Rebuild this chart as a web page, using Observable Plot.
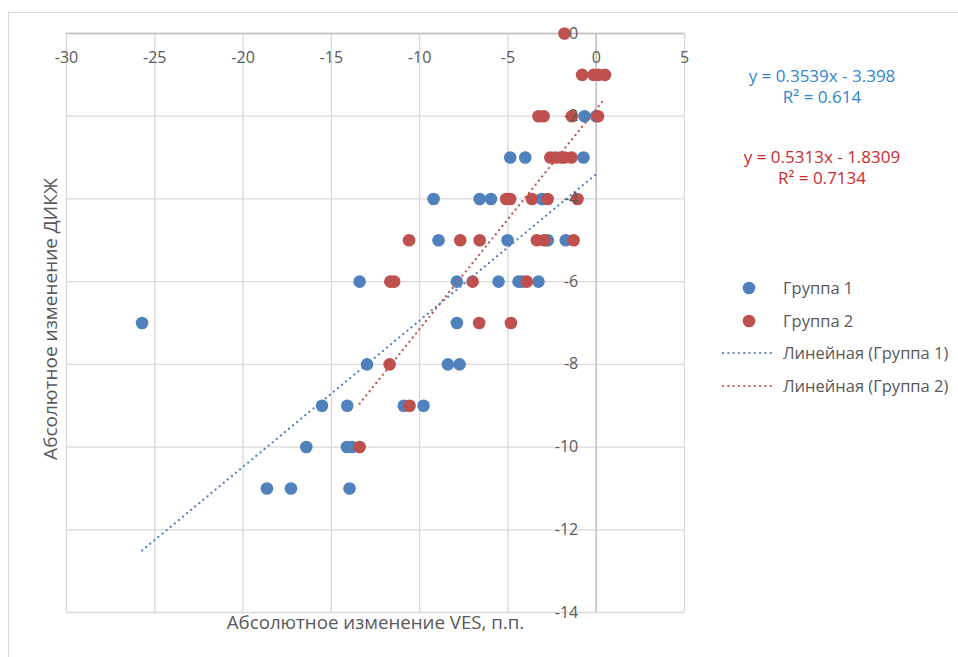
<!DOCTYPE html>
<html>
<head>
<meta charset="utf-8">
<script src="https://cdn.jsdelivr.net/npm/d3@7"></script>
<script src="https://cdn.jsdelivr.net/npm/@observablehq/plot@0.6"></script>
<style>
  html, body { margin: 0; padding: 0; background: #fff; }
  body { width: 958px; height: 657px; overflow: hidden; font-family: "Open Sans", sans-serif; }
  #wrap { position: relative; width: 958px; height: 657px; }
  #wrap svg { position: absolute; left: 0; top: 0; }
  .frame { position: absolute; left: 8px; top: 12px; right: 0; bottom: -5px; border-top: 1.5px solid #d9d9d9; border-left: 1.5px solid #d9d9d9; }
  .eq { position: absolute; width: 220px; text-align: center; font-size: 17px; line-height: 21px; white-space: nowrap; }
  .legend { position: absolute; left: 718px; top: 276px; color: #595959; font-size: 16.5px; }
  .legend .row { position: relative; height: 32.7px; }
  .legend svg { position: absolute !important; left: 0; top: 0; }
  .legend span { position: absolute; left: 65px; top: 0px; white-space: nowrap; }
</style>
</head>
<body>
<div id="wrap"><div class="frame"></div></div>
<script>
// ---- Data ----
const group1X = [-0.66, 0,
  -4.87, -4.02, -0.72,
  -9.21, -6.6, -5.96, -3.07,
  -8.93, -5.02, -2.74, -1.72,
  -13.4, -7.89, -5.53, -4.4, -4.2, -3.27,
  -25.72, -7.89,
  -12.98, -8.4, -7.74,
  -15.53, -14.1, -10.9, -9.78,
  -16.42, -14.12, -13.83,
  -18.65, -17.29, -13.97];
const group1Y = [-2, -2,
  -3, -3, -3,
  -4, -4, -4, -4,
  -5, -5, -5, -5,
  -6, -6, -6, -6, -6, -6,
  -7, -7,
  -8, -8, -8,
  -9, -9, -9, -9,
  -10, -10, -10,
  -11, -11, -11];
const group2X = [-1.8,
  -0.8, -0.15, 0.13, 0.5,
  -3.27, -2.98, -1.38, 0.1,
  -2.6, -2.3, -2.0, -1.8, -1.4,
  -5.1, -4.87, -3.64, -2.75, -1.06,
  -10.6, -7.7, -6.6, -3.36, -2.94, -1.28,
  -11.66, -11.44, -7.0, -3.93,
  -6.63, -4.83,
  -11.7,
  -10.57,
  -13.4];
const group2Y = [0,
  -1, -1, -1, -1,
  -2, -2, -2, -2,
  -3, -3, -3, -3, -3,
  -4, -4, -4, -4, -4,
  -5, -5, -5, -5, -5, -5,
  -6, -6, -6, -6,
  -7, -7,
  -8,
  -9,
  -10];
const trend1 = {slope: 0.3539, intercept: -3.398, r2: "0.614"};
const trend2 = {slope: 0.5313, intercept: -1.8309, r2: "0.7134"};
const xTicks = [-30, -25, -20, -15, -10, -5, 0, 5];
const yTicks = [0, -2, -4, -6, -8, -10, -12, -14];
const seriesNames = ["Группа 1", "Группа 2", "Линейная (Группа 1)", "Линейная (Группа 2)"];
const xTitle = "Абсолютное изменение VES, п.п.";
const yTitle = "Абсолютное изменение ДИКЖ";

// ---- Derived tables ----
const g1 = group1X.map((x, i) => ({x, y: group1Y[i]}));
const g2 = group2X.map((x, i) => ({x, y: group2Y[i]}));
const trendLine = (pts, t) => {
  const [a, b] = d3.extent(pts, d => d.x);
  return [a, b].map(x => ({x, y: t.slope * x + t.intercept}));
};
const t1 = trendLine(g1, trend1);
const t2 = trendLine(g2, trend2);

const blue = "#4f81bd", red = "#c0504d", grid = "#d9d9d9", txt = "#595959";
const fmt = v => String(v);

const chart = Plot.plot({
  width: 958, height: 657,
  marginLeft: 66, marginRight: 274, marginTop: 33, marginBottom: 45,
  x: {domain: [-30, 5], axis: null},
  y: {domain: [-14, 0], axis: null},
  style: {fontFamily: "Open Sans, sans-serif", fontSize: "16px", background: "transparent"},
  marks: [
    Plot.gridX(xTicks, {stroke: grid, strokeOpacity: 1, strokeWidth: 1.3}),
    Plot.gridY(yTicks, {stroke: grid, strokeOpacity: 1, strokeWidth: 1.3}),
    Plot.ruleX([0], {stroke: "#bfbfbf", strokeWidth: 1.3}),
    Plot.ruleY([0], {stroke: "#bfbfbf", strokeWidth: 1.3}),
    Plot.dot(g1, {x: "x", y: "y", r: 6.3, fill: blue, stroke: null}),
    Plot.dot(g2, {x: "x", y: "y", r: 6.3, fill: red, stroke: null}),
    Plot.line(t1, {x: "x", y: "y", stroke: blue, strokeWidth: 2.2, strokeDasharray: "0.1 5.2", strokeLinecap: "round"}),
    Plot.line(t2, {x: "x", y: "y", stroke: red, strokeWidth: 2.2, strokeDasharray: "0.1 5.2", strokeLinecap: "round"}),
    Plot.text(xTicks, {x: d => d, y: 0, dy: 24, text: fmt, fill: txt, fontSize: 16}),
    Plot.text(yTicks, {x: 0, y: d => d, dx: -18, text: fmt, textAnchor: "end", fill: txt, fontSize: 16}),
    Plot.text([xTitle], {frameAnchor: "bottom", dy: 16, text: d => d, textAnchor: "middle", fill: txt, fontSize: 18.7}),
    Plot.text([yTitle], {frameAnchor: "left", dx: -16, dy: -4, rotate: -90, textAnchor: "middle", text: d => d, fill: txt, fontSize: 19})
  ]
});
const wrap = document.getElementById("wrap");
wrap.appendChild(chart);

// ---- Trendline equations ----
function eq(t, color, top) {
  const d = document.createElement("div");
  d.className = "eq";
  d.style.color = color;
  d.style.left = (822 - 110) + "px";
  d.style.top = top + "px";
  const sign = t.intercept < 0 ? " - " : " + ";
  d.innerHTML = `y = ${t.slope}x${sign}${Math.abs(t.intercept)}<br>R² = ${t.r2}`;
  wrap.appendChild(d);
}
eq(trend1, "#2f86cf", 65);
eq(trend2, "#cc2b2b", 146);

// ---- Legend ----
const leg = document.createElement("div");
leg.className = "legend";
seriesNames.forEach((name, i) => {
  const row = document.createElement("div");
  row.className = "row";
  const color = i % 2 === 0 ? blue : red;
  const sw = i < 2
    ? `<svg width="60" height="24"><circle cx="31" cy="12" r="6.3" fill="${color}"/></svg>`
    : `<svg width="60" height="24"><line x1="5" x2="53" y1="12" y2="12" stroke="${color}" stroke-width="2.2" stroke-dasharray="0.1 5.2" stroke-linecap="round"/></svg>`;
  row.innerHTML = sw + `<span>${name}</span>`;
  leg.appendChild(row);
});
wrap.appendChild(leg);
</script>
</body>
</html>
